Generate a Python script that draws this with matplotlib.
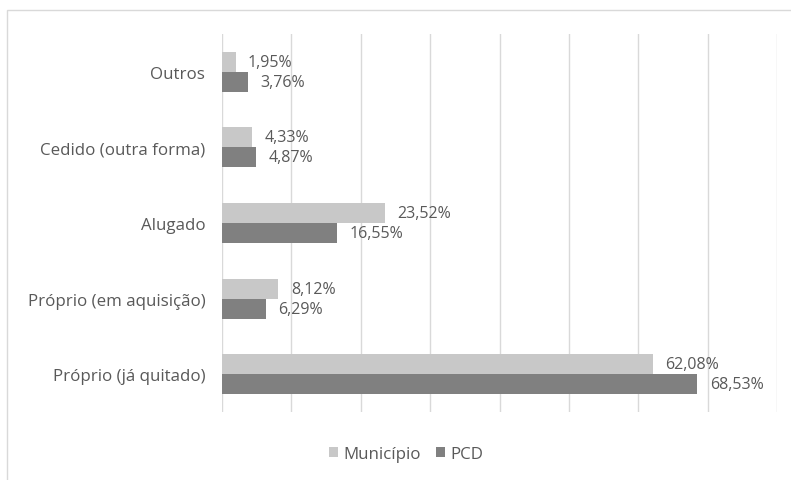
import numpy as np
import matplotlib
matplotlib.use("Agg")
from matplotlib import pyplot as plt
from matplotlib.patches import Rectangle

# Tipo de domicílio, de baixo para cima
categorias = ["Próprio (já quitado)", "Próprio (em aquisição)", "Alugado",
              "Cedido (outra forma)", "Outros"]
municipio = [62.08, 8.12, 23.52, 4.33, 1.95]
pcd = [68.53, 6.29, 16.55, 4.87, 3.76]
series = ["Município", "PCD"]

cor_mun = "#c8c8c8"
cor_pcd = "#808080"
cor_texto = "#595959"

plt.rcParams['font.family'] = ['Open Sans', 'DejaVu Sans']

fig = plt.figure(figsize=(7.91, 4.81), dpi=100)
# moldura clara do gráfico (só as bordas de cima e da esquerda aparecem)
fig.patches.append(Rectangle((7 / 791, -0.1), 1.2, 1.1 - 11 / 481, transform=fig.transFigure,
                             fill=False, edgecolor="#d9d9d9", linewidth=1))
ax = fig.add_axes([222 / 791, 1 - 413 / 481, 555 / 791, 378 / 481])

y = np.arange(len(categorias))
h = 0.265
bm = ax.barh(y + h / 2, municipio, height=h, color=cor_mun, label=series[0], zorder=3)
bp = ax.barh(y - h / 2, pcd, height=h, color=cor_pcd, label=series[1], zorder=3)

for bars, vals in ((bm, municipio), (bp, pcd)):
    for b, v in zip(bars, vals):
        ax.annotate(f"{v:.2f}%".replace(".", ","),
                    (b.get_width(), b.get_y() + b.get_height() / 2),
                    xytext=(9, 0), textcoords="offset points",
                    ha="left", va="center", fontsize=11.5, color=cor_texto)

ax.set_xlim(0, 80)
ax.set_ylim(-0.5, len(categorias) - 0.5)
ax.set_xticks(np.arange(0, 81, 10))
ax.set_xticklabels([])
ax.set_yticks(y)
ax.set_yticklabels(categorias, fontsize=12.2, color=cor_texto)
ax.tick_params(length=0, pad=12)
ax.grid(axis="x", color="#d9d9d9", linewidth=1, zorder=0)
for s in ax.spines.values():
    s.set_visible(False)

fig.legend(handles=[bm, bp], labels=series, loc="center", bbox_to_anchor=(406 / 791, 1 - 455 / 481),
           ncol=2, frameon=False, fontsize=12.2, labelcolor=cor_texto,
           handlelength=0.55, handleheight=0.55, handletextpad=0.3, columnspacing=0.9)

fig.savefig("out.png", dpi=100)
